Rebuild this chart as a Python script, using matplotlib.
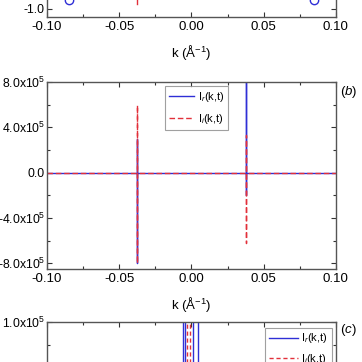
import matplotlib
matplotlib.use("Agg")
import matplotlib.pyplot as plt
from matplotlib.ticker import MultipleLocator, FuncFormatter

plt.rcParams['font.family'] = ['Liberation Sans', 'DejaVu Sans']
plt.rcParams['mathtext.fontset'] = 'custom'
plt.rcParams['mathtext.rm'] = 'Liberation Sans'
plt.rcParams['mathtext.it'] = 'Liberation Sans:italic'

# ---- data ----
# panel (a) (only bottom strip visible)
k_a_circ = [-0.085, 0.085]
v_a_circ = [-0.90, -0.90]
k_a_red = [-0.038, -0.038]
v_a_red = [-0.95, 1.0]

# panel (b)
k_b = [-0.10, -0.038, -0.038, -0.038, -0.038, 0.038, 0.038, 0.038, 0.038, 0.10]
Ir_b = [0, 0, 3.0e5, -8.0e5, 0, 0, 9.5e5, -2.0e5, 0, 0]
Ii_b = [0, 0, 6.0e5, -8.0e5, 0, 0, 3.3e5, -6.2e5, 0, 0]

# panel (c) (only top strip visible)
k_c_r = [-0.0060, -0.0043, 0.0008, 0.0048]
k_c_i = [-0.0032, -0.0008]
c_lo, c_hi = -2.0e5, 2.0e5

xticks = [-0.10, -0.05, 0.00, 0.05, 0.10]
BLUE = '#2f2fd6'
RED = '#e2303a'
SP = '#555555'

fig = plt.figure(figsize=(3.62, 3.62), dpi=100)
L, W, H = 0.130, 0.798, 0.5166
ax_a = fig.add_axes([L, 0.953, W, H])
ax_b = fig.add_axes([L, 0.2569, W, H])
ax_c = fig.add_axes([L, 0.1105 - H, W, H])

def sci(v, pos, exp):
    if abs(v) < 1e-9:
        return '0.0'
    return '%.1fx10$^{%d}$' % (v / 10**exp, exp)

for ax in (ax_a, ax_b, ax_c):
    ax.set_xlim(-0.10, 0.10)
    ax.set_xticks(xticks)
    ax.xaxis.set_major_formatter(FuncFormatter(lambda v, p: '%.2f' % v))
    ax.xaxis.set_minor_locator(MultipleLocator(0.025))
    ax.tick_params(which='both', direction='in', top=True, right=True,
                   colors='#333333', width=0.8)
    ax.tick_params(axis='x', pad=3, labelsize=9.5)
    ax.tick_params(axis='y', pad=1.5, labelsize=8.8)
    ax.tick_params(which='major', length=3.5)
    ax.tick_params(which='minor', length=2)
    ax.tick_params(axis='both', labelcolor='black')
    for s in ax.spines.values():
        s.set_color(SP)
        s.set_linewidth(1.0)
    ax.set_xlabel('k (Å$^{-1}$)', fontsize=9.5, labelpad=7)

# (a)
ax_a.plot(k_a_circ, v_a_circ, 'o', mfc='none', mec=BLUE, ms=6, mew=1.0)
ax_a.plot(k_a_red, v_a_red, color=RED, lw=1.0)
ax_a.set_ylim(-1.1, 1.1)
ax_a.yaxis.set_major_locator(MultipleLocator(1.0))
ax_a.yaxis.set_minor_locator(MultipleLocator(0.5))
ax_a.yaxis.set_major_formatter(FuncFormatter(lambda v, p: '%.1f' % v))

# (b)
ax_b.plot(k_b, Ir_b, color=BLUE, lw=1.0, label='I$_r$(k,t)')
ax_b.plot(k_b, Ii_b, color=RED, lw=1.0, ls=(0, (4, 2)), label='I$_i$(k,t)')
ax_b.set_ylim(-8.5e5, 8.0e5)
ax_b.yaxis.set_major_locator(MultipleLocator(4e5))
ax_b.yaxis.set_minor_locator(MultipleLocator(2e5))
ax_b.yaxis.set_major_formatter(FuncFormatter(lambda v, p: sci(v, p, 5)))
leg = ax_b.legend(loc='upper left', bbox_to_anchor=(0.408, 0.978), fontsize=8,
                  frameon=True, fancybox=False, edgecolor='#888888',
                  handlelength=2.3, handletextpad=0.3, borderpad=0.35,
                  labelspacing=0.75, borderaxespad=0)
leg.get_frame().set_linewidth(0.8)
fig.text(0.938, 1 - 92 / 362, r'($\mathit{b}$)', fontsize=9.5, ha='left', va='center')

# (c)
for k in k_c_r:
    ax_c.plot([k, k], [c_lo, c_hi], color=BLUE, lw=1.0)
for k in k_c_i:
    ax_c.plot([k, k], [c_lo, c_hi], color=RED, lw=1.0, ls=(0, (3, 2)))
ax_c.plot([], [], color=BLUE, lw=1.0, label='I$_r$(k,t)')
ax_c.plot([], [], color=RED, lw=1.0, ls=(0, (3, 2)), label='I$_i$(k,t)')
ax_c.set_ylim(-1.0e5, 1.0e5)
ax_c.yaxis.set_major_locator(MultipleLocator(1e5))
ax_c.yaxis.set_minor_locator(MultipleLocator(0.5e5 / 2))
ax_c.yaxis.set_major_formatter(FuncFormatter(lambda v, p: sci(v, p, 5)))
leg2 = ax_c.legend(loc='upper right', bbox_to_anchor=(0.985, 0.97), fontsize=8,
                   frameon=True, fancybox=False, edgecolor='#888888',
                   handlelength=2.6, handletextpad=0.3, borderpad=0.35,
                   labelspacing=0.55, borderaxespad=0)
leg2.get_frame().set_linewidth(0.8)
fig.text(0.938, 1 - 330 / 362, r'($\mathit{c}$)', fontsize=9.5, ha='left', va='center')

fig.savefig('out.png', dpi=100)
